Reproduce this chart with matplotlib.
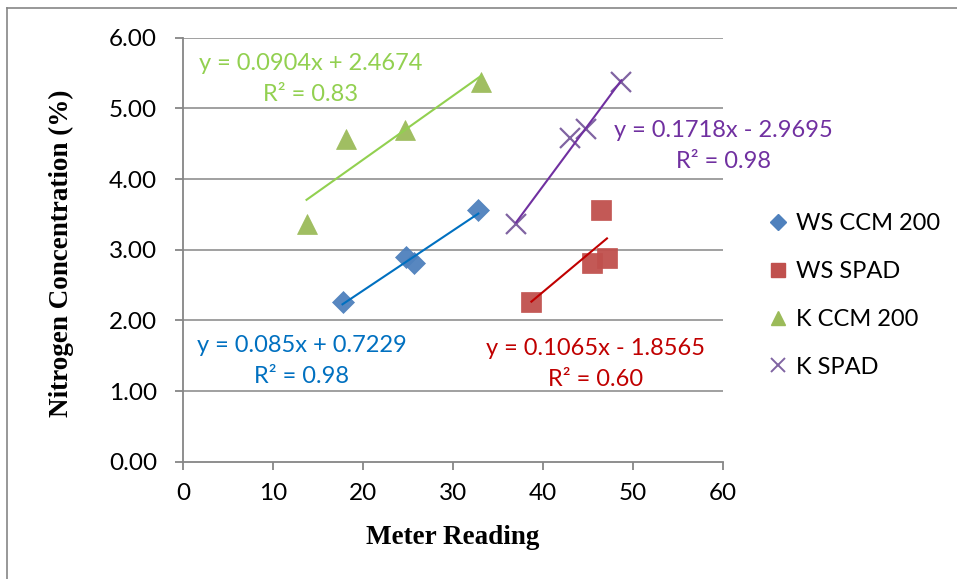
import matplotlib
matplotlib.use("Agg")
import matplotlib.pyplot as plt
from matplotlib.lines import Line2D
import numpy as np

plt.rcParams['font.family'] = ['Lato', 'DejaVu Sans']

# ---- data ----
series_names = ["WS CCM 200", "WS SPAD", "K CCM 200", "K SPAD"]
ws_ccm_x = [17.7, 24.8, 25.7, 32.8]
ws_ccm_y = [2.26, 2.90, 2.81, 3.56]
ws_spad_x = [38.7, 45.4, 47.1, 46.4]
ws_spad_y = [2.26, 2.81, 2.88, 3.56]
k_ccm_x = [13.7, 18.1, 24.7, 33.1]
k_ccm_y = [3.36, 4.57, 4.69, 5.37]
k_spad_x = [37.0, 43.0, 44.8, 48.7]
k_spad_y = [3.36, 4.58, 4.71, 5.38]

slopes = [0.085, 0.1065, 0.0904, 0.1718]
intercepts = [0.7229, -1.8565, 2.4674, -2.9695]
eq_texts = ["y = 0.085x + 0.7229\nR² = 0.98",
            "y = 0.1065x - 1.8565\nR² = 0.60",
            "y = 0.0904x + 2.4674\nR² = 0.83",
            "y = 0.1718x - 2.9695\nR² = 0.98"]
x_ticks = [0, 10, 20, 30, 40, 50, 60]
y_ticks = [0, 1, 2, 3, 4, 5, 6]

xs = [ws_ccm_x, ws_spad_x, k_ccm_x, k_spad_x]
ys = [ws_ccm_y, ws_spad_y, k_ccm_y, k_spad_y]
marker_colors = ["#4F81BD", "#C0504D", "#9BBB59", "#8064A2"]
line_colors = ["#0070C0", "#C00000", "#92D050", "#7030A0"]
markers = ["D", "s", "^", "x"]
msizes = [11, 14, 14, 14]
text_pos = [(302, 361), (596, 364), (311, 79), (723, 146)]  # pixel centers

W, H = 957, 579
fig = plt.figure(figsize=(W / 100, H / 100), dpi=100)
ax = fig.add_axes([183.3 / W, 1 - 461.7 / H, (723 - 183.3) / W, (461.7 - 37.7) / H])

gray = "#868686"
for yt in y_ticks[1:]:
    ax.axhline(yt, color=gray, lw=1.1, zorder=0)

for i in range(4):
    if markers[i] == "x":
        ax.plot(xs[i], ys[i], linestyle="none", marker="x", ms=msizes[i],
                mec=marker_colors[i], mew=1.6, zorder=3)
    else:
        ax.plot(xs[i], ys[i], linestyle="none", marker=markers[i], ms=msizes[i],
                mfc=marker_colors[i], mec=marker_colors[i], mew=0.5, alpha=0.95, zorder=3)
    x0, x1 = min(xs[i]), max(xs[i])
    ax.plot([x0, x1], [slopes[i] * x0 + intercepts[i], slopes[i] * x1 + intercepts[i]],
            color=line_colors[i], lw=1.5, zorder=4)
    px, py = text_pos[i]
    fig.text(px / W, 1 - py / H, eq_texts[i], color=line_colors[i], fontsize=17,
             ha="center", va="center", multialignment="center", linespacing=1.55)

ax.set_xlim(0, 60)
ax.set_ylim(0, 6)
ax.set_xticks(x_ticks)
ax.set_yticks(y_ticks)
ax.set_yticklabels([f"{v:.2f}" for v in y_ticks])
ax.set_xticklabels([str(v) for v in x_ticks])
for s in ["top", "right"]:
    ax.spines[s].set_visible(False)
for s in ["left", "bottom"]:
    ax.spines[s].set_color(gray)
    ax.spines[s].set_linewidth(1.3)
ax.tick_params(axis="both", colors=gray, length=6, width=1.3, labelsize=17.5, labelcolor="black")
ax.tick_params(axis="y", pad=13)
ax.tick_params(axis="x", pad=9)

fig.text(453 / W, 1 - 537 / H, "Meter Reading", family="Liberation Serif", fontweight="bold",
         fontsize=19.5, ha="center", va="center")
fig.text(61 / W, 1 - 253 / H, "Nitrogen Concentration (%)", family="Liberation Serif",
         fontweight="bold", fontsize=19.5, ha="center", va="center", rotation=90)

handles = []
for i in range(4):
    if markers[i] == "x":
        h = Line2D([], [], linestyle="none", marker="x", ms=msizes[i] * 0.75,
                   mec=marker_colors[i], mew=1.4)
    else:
        h = Line2D([], [], linestyle="none", marker=markers[i], ms=msizes[i] * 0.75,
                   mfc=marker_colors[i], mec=marker_colors[i])
    handles.append(h)
fig.legend(handles, series_names, loc="upper left", bbox_to_anchor=(769 / W, 1 - 213 / H),
           frameon=False, fontsize=17, handlelength=0.8, handletextpad=0.35,
           labelspacing=1.14, borderaxespad=0, borderpad=0)

# outer chart border
fig.add_artist(Line2D([7.5 / W, 7.5 / W], [0, 1 - 7.5 / H], color=gray, lw=1.2))
fig.add_artist(Line2D([7.5 / W, 1], [1 - 7.5 / H, 1 - 7.5 / H], color=gray, lw=1.2))

fig.savefig("out.png", dpi=100)
